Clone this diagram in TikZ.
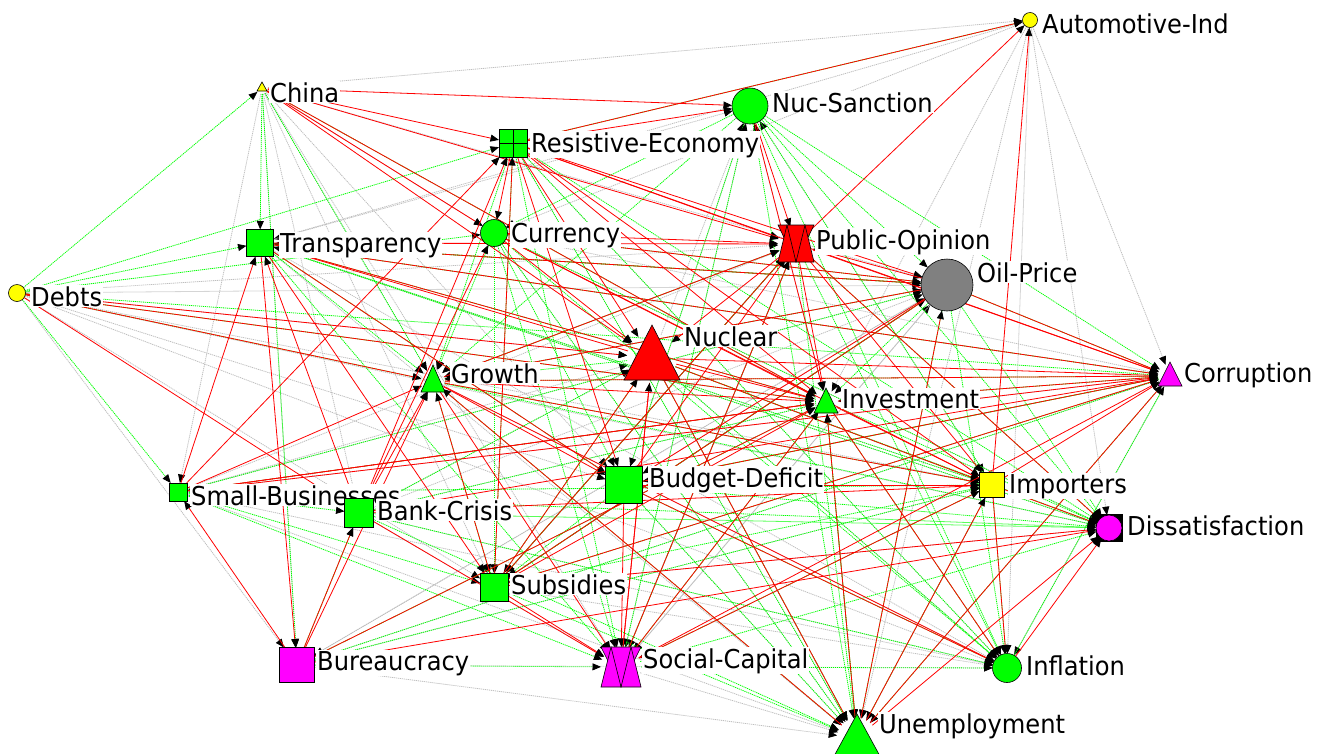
\documentclass[tikz,border=0pt]{standalone}
\usepackage{fontspec}
\setmainfont{DejaVu Sans}[FakeStretch=0.93]
\usetikzlibrary{arrows.meta}
\pgfdeclarelayer{bg}
\pgfsetlayers{bg,main}
\definecolor{cR}{RGB}{255,0,0}
\definecolor{cG}{RGB}{0,255,0}
\definecolor{cGy}{RGB}{190,190,190}
\definecolor{cM}{RGB}{255,0,255}
\definecolor{cY}{RGB}{255,255,0}
\definecolor{cOil}{RGB}{128,128,128}
\begin{document}
\begin{tikzpicture}[x=1pt,y=-1pt,
  hub/.style={circle,inner sep=0pt,outer sep=0pt,minimum size=#1},
  cnode/.style={circle,draw=black,line width=0.6pt,inner sep=0pt,outer sep=0pt,minimum size=#1},
  snode/.style={rectangle,draw=black,line width=0.6pt,inner sep=0pt,outer sep=0pt,minimum size=#1},
  shp/.style={draw=black,line width=0.6pt},
  lbl/.style={fill=white,inner xsep=1pt,inner ysep=1pt,anchor=base west,font=\fontsize{26}{30}\selectfont},
  tip/.style={-{Triangle[length=8.5pt,width=7pt,color=black,fill=black]}},
  rE/.style={tip,draw=cR,line width=0.8pt},
  gE/.style={tip,draw=cG,line width=0.8pt,dash pattern=on 1.2pt off 0.8pt},
  grE/.style={tip,draw=cGy,line width=0.8pt,dash pattern=on 1.2pt off 0.8pt}]
\useasboundingbox (0,0) rectangle (1321,753);

% ---------- nodes ----------
\node[cnode=15,fill=cY] (A) at (1030,20) {};
\node[lbl] (AL) at (1041,33) {Automotive-Ind};

\node[hub=12] (Ch) at (262,88) {};
\filldraw[fill=cY,shp] (262,82) -- (267,91) -- (257,91) -- cycle;
\node[lbl] (ChL) at (269,102) {China};

\node[cnode=36,fill=cG] (NS) at (750,106) {};
\node[lbl] (NSL) at (771,112) {Nuc-Sanction};

\node[snode=28,fill=cG] (RE) at (513,143) {};
\draw[shp] (RE.north) -- (RE.south) (RE.west) -- (RE.east);
\node[lbl] (REL) at (530,152) {Resistive-Economy};

\node[cnode=27,fill=cG] (Cu) at (494,233) {};
\node[lbl] (CuL) at (510,242) {Currency};

\node[snode=27,fill=cG] (Tr) at (260,243) {};
\node[lbl] (TrL) at (279,252) {Transparency};

\node[hub=36] (PO) at (796,244) {};
\filldraw[fill=cR,shp] (778,225) -- (814,225) -- (796,262) -- cycle;
\filldraw[fill=cR,shp] (778,262) -- (796,262) -- (787,225) -- cycle;
\filldraw[fill=cR,shp] (796,262) -- (814,262) -- (805,225) -- cycle;
\node[lbl] (POL) at (815,249) {Public-Opinion};

\node[cnode=52,fill=cOil] (OP) at (947,285) {};
\node[lbl] (OPL) at (976,282) {Oil-Price};

\node[cnode=17,fill=cY] (De) at (17,293) {};
\node[lbl] (DeL) at (30,306) {Debts};

\node[hub=50] (Nu) at (652,358) {};
\filldraw[fill=cR,shp] (652,325) -- (680,380) -- (624,380) -- cycle;
\node[lbl] (NuL) at (683,346) {Nuclear};

\node[hub=24] (Gr) at (433,381) {};
\filldraw[fill=cG,shp] (433,365) -- (445,392) -- (421,392) -- cycle;
\node[lbl] (GrL) at (450,383) {Growth};

\node[hub=24] (In) at (826,402) {};
\filldraw[fill=cG,shp] (826,388) -- (838,413) -- (814,413) -- cycle;
\node[lbl] (InL) at (841,408) {Investment};

\node[hub=24] (Co) at (1170,376) {};
\filldraw[fill=cM,shp] (1170,362) -- (1182,386) -- (1158,386) -- cycle;
\node[lbl] (CoL) at (1183,382) {Corruption};

\node[snode=37,fill=cG] (BD) at (624,485) {};
\node[lbl] (BDL) at (648,487) {Budget-Deficit};

\node[snode=25,fill=cY] (Im) at (992,485) {};
\node[lbl] (ImL) at (1008,493) {Importers};

\node[snode=18,fill=cG] (SB) at (178,492) {};
\node[lbl] (SBL) at (190,505) {Small-Businesses};

\node[snode=29,fill=cG] (BC) at (359,513) {};
\node[lbl] (BCL) at (376,520) {Bank-Crisis};

\fill[black] (1096,514) rectangle (1123,542);
\node[cnode=26,fill=cM] (Di) at (1109,528) {};
\node[lbl] (DiL) at (1126,535) {Dissatisfaction};

\node[snode=28,fill=cG] (Su) at (494,587) {};
\node[lbl] (SuL) at (510,594) {Subsidies};

\node[snode=35,fill=cM] (Bu) at (297,665) {};
\node[lbl] (BuL) at (316,670) {Bureaucracy};

\node[hub=40] (SC) at (621,667) {};
\filldraw[fill=cM,shp] (601,647) -- (641,647) -- (621,687) -- cycle;
\filldraw[fill=cM,shp] (601,687) -- (621,687) -- (611,647) -- cycle;
\filldraw[fill=cM,shp] (621,687) -- (641,687) -- (631,647) -- cycle;
\node[lbl] (SCL) at (642,668) {Social-Capital};

\node[cnode=29,fill=cG] (Inf) at (1007,668) {};
\node[lbl] (InfL) at (1025,675) {Inflation};

\node[hub=40] (Un) at (857,738) {};
\filldraw[fill=cG,shp] (857,714) -- (881,758) -- (833,758) -- cycle;
\node[lbl] (UnL) at (878,733) {Unemployment};

% ---------- edges ----------
\begin{pgfonlayer}{bg}
\foreach \a/\b in {Ch/A, Ch/Gr, Ch/BD, Ch/Su, Ch/SC, Ch/BC, Ch/Bu, Ch/SB, Ch/Cu, Ch/OP,
  A/Co, A/Inf, A/Un, A/Di, A/In, A/Tr, A/Cu,
  De/Nu, De/BD, De/Su, De/Inf, De/Bu, De/OP, De/PO, De/Im, De/Di,
  Tr/Co, Tr/Inf, Tr/Un, Tr/Di, Tr/OP, Tr/NS, Tr/Im,
  Bu/Un, Bu/Inf, Bu/OP, Bu/Co, Bu/Im,
  SC/Un, SC/OP, SC/PO, Su/Inf, Su/OP, Su/PO, BC/Inf, BC/OP, BC/In, BC/Nu,
  SB/Un, SB/Inf, SB/OP, SB/Nu, SB/PO,
  OP/SC, OP/Bu, PO/SC, NS/SC, Nu/Inf, RE/Un, RE/Inf, Cu/Un, Cu/Di,
  Gr/Inf, Gr/PO, Gr/OP, In/Un, BD/Un, BD/OP, BD/NS, Nu/NS, In/NS, Im/NS,
  Im/Un, Co/Inf, Nu/Un, Su/Di, BC/SC, SB/Co, Cu/Co}
  \draw[grE] (\a) -- (\b);
\foreach \a/\b in {De/Ch, De/SB, De/Tr, De/RE, De/Gr, De/In, De/Co, De/Cu,
  Ch/Tr, Ch/Gr, Ch/In, Ch/Bu,
  NS/Cu, NS/Gr, NS/Co, NS/OP, NS/BD, NS/Un, NS/Im, NS/Inf, NS/Di,
  RE/A, RE/Gr, RE/Su, RE/SC, RE/Di, RE/Un, RE/Inf,
  OP/Co, OP/Di, OP/In, OP/Inf, OP/Un, OP/Su, OP/Tr,
  Tr/Gr, Tr/In, Tr/BD, Tr/SC, Tr/Co, Tr/OP, Tr/Im, Tr/Di,
  Cu/Gr, Cu/Su, Cu/BD, Cu/SC, Cu/Un, Cu/OP, Cu/Inf, Cu/Di,
  PO/Un, PO/Inf, PO/Di, PO/Gr, PO/Su,
  Gr/Su, Gr/Un, Gr/Di, Gr/Co, Gr/OP, Gr/Im,
  Nu/Gr, Nu/Su, Nu/Di, Nu/Im, Nu/Inf, Nu/Un,
  In/Di, In/SC, In/Inf, In/Bu, In/Un,
  BD/Di, BD/Su, BD/Un, BD/Co, BD/Inf,
  Im/Inf, Im/Un, Im/SC,
  Co/Su, Co/Un, Co/In, Co/BD,
  SB/BC, SB/SC, SB/Su, SB/Im, SB/Di, SB/In, SB/OP,
  Bu/BC, Bu/SC, Bu/Im, Bu/Co, BC/Un, BC/Di, BC/Inf, BC/Nu, BC/In,
  Su/Un, Su/Im, Su/OP, Su/PO, SC/Inf, SC/Di, SC/PO, SC/NS, Inf/Co, Un/In}
  \draw[gE] (\a) -- (\b);
\foreach \a/\b in {Ch/NS, Ch/RE, Ch/PO, Ch/In, Ch/Nu, Ch/Cu,
  De/Gr, De/In, De/BC, De/Nu,
  RE/NS, RE/A, RE/PO, RE/Nu, RE/In, RE/Cu, RE/Im, RE/Co, RE/BD, RE/OP,
  Tr/PO, Tr/Bu, Tr/BD, Tr/Su, Tr/In, Tr/Co, Tr/OP,
  Cu/PO, Cu/Nu, Cu/Im, Cu/In, Cu/OP,
  NS/PO, NS/In,
  PO/A, PO/Co, PO/Im, PO/Di, PO/In, PO/Nu,
  OP/PO, OP/Gr, OP/Co, OP/BD, OP/Su,
  Nu/In, Nu/Un, Nu/SC, Nu/Co, Nu/Tr, Nu/Im,
  Gr/In, Gr/BD, Gr/SC, Gr/Im, Gr/Inf, Gr/PO, Gr/Co,
  BD/Im, BD/Inf, BD/SC, BD/Co, BD/PO,
  In/Co, In/Im, In/SB, In/Inf,
  Im/Co, Im/A, Im/Inf, Im/Di,
  SB/Gr, SB/In, SB/RE, SB/Tr, SB/Co,
  BC/Gr, BC/RE, BC/Cu, BC/Im, BC/SC, BC/Tr, BC/Co,
  Su/Gr, Su/In, Su/Co, Su/Di, Su/SC, Su/Nu, Su/RE, Su/PO,
  Bu/SB, Bu/BC, Bu/In, Bu/Gr, Bu/Di,
  SC/In, SC/Im, SC/Nu, SC/Co, SC/PO,
  Inf/Di, Un/In, Un/Im, Un/Di, Un/Co, Un/Gr, Un/OP}
  \draw[rE] (\a) -- (\b);
\end{pgfonlayer}
\end{tikzpicture}
\end{document}
